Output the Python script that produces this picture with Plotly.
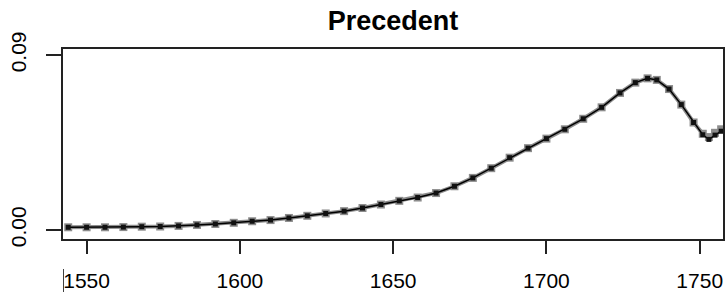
import plotly.graph_objects as go

# Data
years = [1544, 1550, 1556, 1562, 1568, 1574, 1580, 1586, 1592, 1598, 1604, 1610,
         1616, 1622, 1628, 1634, 1640, 1646, 1652, 1658, 1664, 1670, 1676, 1682,
         1688, 1694, 1700, 1706, 1712, 1718, 1724, 1729, 1733, 1736, 1740, 1744,
         1748, 1751, 1753, 1755, 1757]
series_gray = [0.0014, 0.0014, 0.0014, 0.0015, 0.0017, 0.0018, 0.0021, 0.0026, 0.0031,
               0.0037, 0.0045, 0.0051, 0.0062, 0.0073, 0.0085, 0.0097, 0.0113, 0.0131,
               0.0150, 0.0167, 0.0190, 0.0225, 0.0268, 0.0318, 0.0372, 0.0421, 0.0470,
               0.0518, 0.0572, 0.0631, 0.0705, 0.0758, 0.0780, 0.0772, 0.0725, 0.0645,
               0.0553, 0.0495, 0.0478, 0.0500, 0.0518]
series_black = [0.0014, 0.0014, 0.0014, 0.0015, 0.0017, 0.0018, 0.0021, 0.0026, 0.0031,
                0.0037, 0.0045, 0.0051, 0.0062, 0.0073, 0.0085, 0.0097, 0.0113, 0.0131,
                0.0150, 0.0167, 0.0190, 0.0225, 0.0268, 0.0318, 0.0372, 0.0421, 0.0470,
                0.0518, 0.0572, 0.0631, 0.0705, 0.0758, 0.0780, 0.0772, 0.0725, 0.0645,
                0.0553, 0.0490, 0.0466, 0.0488, 0.0508]
x_ticks = [1550, 1600, 1650, 1700, 1750]
y_ticks = [0.00, 0.09]
y_tick_labels = ["0.00", "0.09"]
title_text = "Precedent"

FONT = "Liberation Sans, Arial, sans-serif"

fig = go.Figure()
fig.add_trace(go.Scatter(
    x=years, y=series_gray, mode="lines+markers",
    line=dict(color="#8c8c8c", width=4),
    marker=dict(symbol="square", size=8, color="#8c8c8c"),
    showlegend=False, hoverinfo="skip"))
fig.add_trace(go.Scatter(
    x=years, y=series_black, mode="lines+markers",
    line=dict(color="black", width=1.5),
    marker=dict(symbol="square", size=5, color="#111111"),
    showlegend=False, hoverinfo="skip"))

xr = [1542.3, 1757.6]
fig.update_layout(
    width=727, height=303,
    margin=dict(l=63, r=4, t=49, b=64, autoexpand=False),
    paper_bgcolor="white", plot_bgcolor="white",
    title=dict(text=title_text, x=0.5, xanchor="center", xref="paper",
               y=1 - 20.5 / 303, yanchor="middle", yref="container", automargin=False,
               font=dict(family=FONT, size=27, color="black", weight="bold")),
    xaxis=dict(range=xr, tickvals=x_ticks, ticks="outside", ticklen=13, tickwidth=1.5,
               tickcolor="#222", showgrid=False, zeroline=False, automargin=False,
               showline=True, linecolor="#222", linewidth=1.5, mirror=True,
               tickfont=dict(family=FONT, size=21, color="black"),
               ticklabelstandoff=9),
    yaxis=dict(range=[-0.00463, 0.0931], tickvals=y_ticks, ticktext=y_tick_labels,
               ticks="outside", ticklen=15, tickwidth=1.5, tickcolor="#222",
               showgrid=False, zeroline=False, tickangle=-90, automargin=False,
               showline=True, linecolor="#222", linewidth=1.5, mirror=True,
               tickfont=dict(family=FONT, size=21, color="black"),
               ticklabelstandoff=12),
)
fig.add_shape(type="line", xref="x", yref="paper", x0=xr[0], x1=xr[0],
              y0=-0.158, y1=-0.279, line=dict(color="black", width=1.5))

fig.write_html("out.html", config={"displayModeBar": False},
               post_script="document.body.style.margin='0';document.body.style.overflow='hidden';")
